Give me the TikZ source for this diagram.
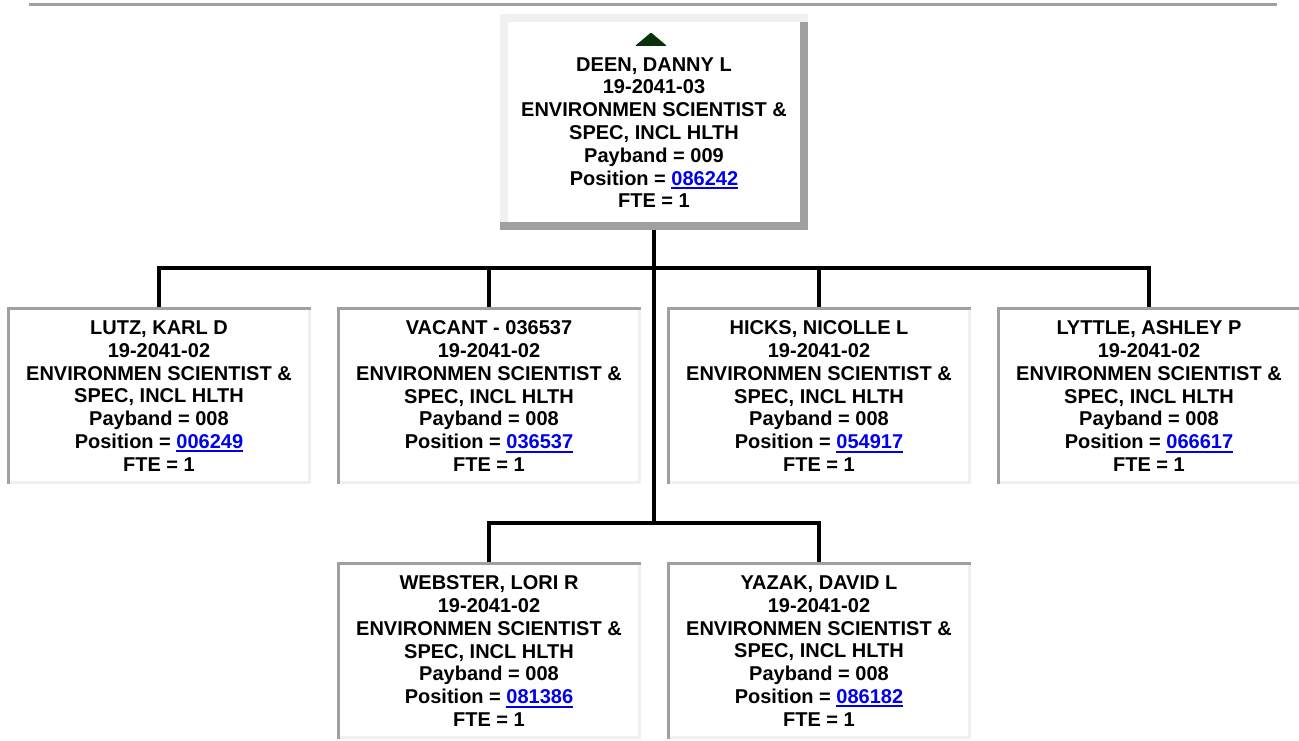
\documentclass[tikz,border=0pt]{standalone}
\usepackage{fontspec}
\setmainfont{Liberation Sans}
\definecolor{dkg}{RGB}{160,160,160}
\definecolor{ltg}{RGB}{240,240,240}
\definecolor{linkblue}{RGB}{0,0,238}
\definecolor{trig}{RGB}{10,50,10}
\newcommand\lnk[1]{\textcolor{linkblue}{\setbox0\hbox{#1}\rlap{\rule[-4pt]{\wd0}{2pt}}\box0}}
\tikzset{
  childbox/.style={minimum width=304pt, minimum height=177pt, inner sep=0pt, outer sep=0pt, fill=white,
    path picture={
      \fill[dkg] (path picture bounding box.north west) rectangle ([yshift=-3pt]path picture bounding box.north east);
      \fill[dkg] (path picture bounding box.north west) rectangle ([xshift=3pt]path picture bounding box.south west);
      \fill[ltg] ([xshift=-3pt,yshift=-3pt]path picture bounding box.north east) rectangle (path picture bounding box.south east);
      \fill[ltg] ([xshift=3pt]path picture bounding box.south west) rectangle ([yshift=3pt]path picture bounding box.south east);
    }},
  topbox/.style={minimum width=308pt, minimum height=216pt, inner sep=0pt, outer sep=0pt, fill=white,
    path picture={
      \fill[ltg] (path picture bounding box.north west) rectangle ([yshift=-8pt]path picture bounding box.north east);
      \fill[ltg] (path picture bounding box.north west) rectangle ([xshift=8pt,yshift=8pt]path picture bounding box.south west);
      \fill[dkg] ([xshift=-8pt,yshift=-8pt]path picture bounding box.north east) rectangle (path picture bounding box.south east);
      \fill[dkg] (path picture bounding box.south west) rectangle ([yshift=8pt]path picture bounding box.south east);
    }},
  lbl/.style={anchor=north, inner sep=0pt, outer sep=0pt, align=center,
    font=\fontsize{20pt}{22.8pt}\selectfont\bfseries},
  conn/.style={line width=4pt, black, line join=miter}
}
\begin{document}
\begin{tikzpicture}[x=1pt,y=-1pt]
\useasboundingbox[fill=white] (0,0) rectangle (1299,741);
\fill[dkg] (29,3) rectangle (1277,6.3);

% boxes
\node[topbox] (top) at (654,122) {};
\node[childbox] (lutz) at (159,395.5) {};
\node[childbox] (vacant) at (489,395.5) {};
\node[childbox] (hicks) at (819,395.5) {};
\node[childbox] (lyttle) at (1149,395.5) {};
\node[childbox] (webster) at (489,650.5) {};
\node[childbox] (yazak) at (819,650.5) {};

% connectors
\coordinate (bus1) at (654,267.7);
\coordinate (bus2) at (654,523.3);
\draw[conn] (top.south) -- (top.south |- bus2);
\draw[conn] (lutz.north) -- (lutz.north |- bus1) -- (lyttle.north |- bus1) -- (lyttle.north);
\draw[conn] (vacant.north) -- (vacant.north |- bus1);
\draw[conn] (hicks.north) -- (hicks.north |- bus1);
\draw[conn] (webster.north) -- (webster.north |- bus2) -- (yazak.north |- bus2) -- (yazak.north);

% top box content
\fill[trig, rounded corners=1pt] (635,46) -- (651,32.5) -- (667,46) -- cycle;
\node[lbl] (ttop) at (654,57.3) {DEEN, DANNY L\\19-2041-03\\ENVIRONMEN SCIENTIST \&\\SPEC, INCL HLTH\\Payband = 009\\Position = \lnk{086242}\\FTE = 1};

% children content
\node[lbl] (tlutz) at (159,320.7) {LUTZ, KARL D\\19-2041-02\\ENVIRONMEN SCIENTIST \&\\SPEC, INCL HLTH\\Payband = 008\\Position = \lnk{006249}\\FTE = 1};
\node[lbl] (tvacant) at (489,320.7) {VACANT - 036537\\19-2041-02\\ENVIRONMEN SCIENTIST \&\\SPEC, INCL HLTH\\Payband = 008\\Position = \lnk{036537}\\FTE = 1};
\node[lbl] (thicks) at (819,320.7) {HICKS, NICOLLE L\\19-2041-02\\ENVIRONMEN SCIENTIST \&\\SPEC, INCL HLTH\\Payband = 008\\Position = \lnk{054917}\\FTE = 1};
\node[lbl] (tlyttle) at (1149,320.7) {LYTTLE, ASHLEY P\\19-2041-02\\ENVIRONMEN SCIENTIST \&\\SPEC, INCL HLTH\\Payband = 008\\Position = \lnk{066617}\\FTE = 1};
\node[lbl] (twebster) at (489,575.7) {WEBSTER, LORI R\\19-2041-02\\ENVIRONMEN SCIENTIST \&\\SPEC, INCL HLTH\\Payband = 008\\Position = \lnk{081386}\\FTE = 1};
\node[lbl] (tyazak) at (819,575.7) {YAZAK, DAVID L\\19-2041-02\\ENVIRONMEN SCIENTIST \&\\SPEC, INCL HLTH\\Payband = 008\\Position = \lnk{086182}\\FTE = 1};
\end{tikzpicture}
\end{document}
